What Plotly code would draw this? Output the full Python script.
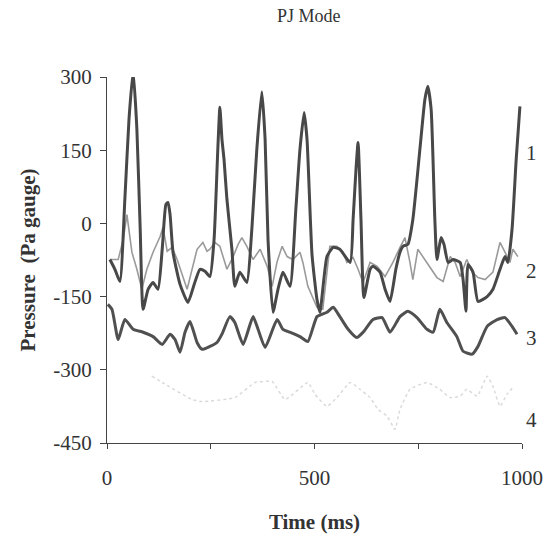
import plotly.graph_objects as go

# --- data (time in ms, pressure in Pa gauge)
t1 = [7, 19, 31, 43, 53, 63, 72, 80, 87, 99, 111, 123, 133, 142, 147, 152, 159, 176, 195, 210,
      224, 236, 248, 258, 267, 272, 277, 282, 289, 301, 308, 320, 337, 349, 361, 373, 381, 388, 400, 412,
      424, 441, 455, 465, 475, 482, 494, 506, 513, 530, 545, 561, 586, 593, 600, 605, 612, 619, 634, 641,
      658, 670, 682, 696, 706, 713, 725, 737, 754, 766, 773, 781, 790, 795, 805, 812, 822, 834, 851, 858,
      865, 870, 882, 894, 916, 930, 947, 959, 966, 976, 986, 995]
p1 = [-74, -94, -119, 49, 213, 311, 193, -12, -176, -135, -121, -135, -53, 39, 43, 18, -59, -125, -162, -125,
      -94, -98, -109, -33, 152, 238, 172, 131, 49, -53, -129, -100, -121, -12, 152, 270, 172, -33, -182, -135,
      -100, -129, 29, 152, 227, 172, -64, -156, -182, -68, -49, -53, -80, 8, 111, 166, 8, -152, -94, -88,
      -100, -135, -160, -94, -59, -47, -43, 8, 152, 254, 281, 234, 8, -74, -29, -43, -80, -74, -80, -115,
      -180, -84, -100, -160, -150, -135, -94, -68, -80, -12, 131, 240]

t2 = [7, 27, 39, 48, 60, 72, 84, 96, 111, 128, 135, 145, 157, 169, 193, 205, 217, 231, 241, 248,
      260, 272, 289, 304, 316, 325, 337, 352, 369, 386, 398, 410, 422, 434, 448, 465, 472, 484, 506, 520,
      537, 554, 569, 578, 593, 605, 617, 634, 651, 670, 689, 706, 718, 730, 737, 749, 761, 778, 795, 810,
      827, 839, 851, 867, 880, 894, 911, 930, 947, 959, 971, 978, 990]
p2 = [-74, -74, -33, 18, -59, -94, -135, -94, -59, -27, -8, -57, -49, -74, -135, -94, -53, -39, -57, -53,
      -39, -47, -94, -68, -43, -29, -47, -74, -53, -88, -129, -78, -47, -68, -74, -59, -80, -129, -172, -176,
      -47, -47, -59, -80, -70, -94, -121, -80, -88, -109, -80, -49, -29, -80, -115, -53, -68, -88, -111, -119,
      -68, -80, -109, -74, -100, -111, -115, -100, -39, -59, -80, -53, -68]

t3 = [2, 12, 27, 43, 63, 87, 111, 133, 152, 164, 176, 188, 200, 217, 229, 248, 265, 277, 296, 308,
      328, 352, 364, 381, 410, 424, 441, 465, 484, 506, 530, 545, 561, 581, 602, 617, 641, 663, 682, 706,
      725, 747, 771, 786, 802, 819, 843, 858, 880, 894, 916, 940, 959, 976, 988]
p3 = [-166, -176, -238, -197, -217, -223, -232, -248, -227, -238, -264, -223, -201, -244, -258, -252, -244, -227, -191, -203,
      -248, -191, -217, -254, -197, -217, -223, -232, -242, -191, -182, -172, -191, -217, -234, -223, -197, -193, -223, -191,
      -180, -193, -217, -223, -176, -203, -232, -262, -268, -252, -211, -197, -193, -211, -227]

t4 = [108, 133, 205, 229, 308, 357, 398, 429, 484, 501, 530, 554, 586, 610, 634, 653, 675, 694, 706, 730,
      771, 802, 827, 851, 867, 892, 916, 930, 947, 964, 978]
p4 = [-313, -326, -361, -365, -357, -326, -324, -361, -326, -350, -375, -357, -326, -340, -357, -381, -395, -422, -381, -340,
      -326, -340, -357, -354, -340, -354, -313, -334, -375, -350, -336]

yticks = [-450, -300, -150, 0, 150, 300]
ylabels = ["-450", "-300", "-150", "0", "150", "300"]

serif = "Liberation Serif, Times New Roman, serif"

fig = go.Figure()
fig.add_trace(go.Scatter(x=t4, y=p4, mode="lines",
                         line=dict(color="#dadada", width=1.5, dash="dot", shape="spline", smoothing=0.4)))
fig.add_trace(go.Scatter(x=t2, y=p2, mode="lines",
                         line=dict(color="#9a9a9a", width=1.6)))
fig.add_trace(go.Scatter(x=t3, y=p3, mode="lines",
                         line=dict(color="#505050", width=3, shape="spline", smoothing=0.5)))
fig.add_trace(go.Scatter(x=t1, y=p1, mode="lines",
                         line=dict(color="#484848", width=3, shape="spline", smoothing=0.5)))

# curve labels at the right end
for lab, yv in [("1", 145), ("2", -98), ("3", -234), ("4", -402)]:
    fig.add_annotation(x=1.005, xref="paper", y=yv, yref="y", text=lab, showarrow=False,
                       xanchor="left", font=dict(family=serif, size=21, color="#333"))

# page body keeps its default 8px margin, so the figure is sized to fit inside the window
fig.update_layout(
    width=544, height=530,
    margin=dict(l=99, r=30, t=69, b=95, autoexpand=False),
    paper_bgcolor="white", plot_bgcolor="white",
    showlegend=False,
    font=dict(family=serif, color="#333"),
    title=dict(text="PJ Mode", x=0.553, xanchor="center", xref="container",
               y=0.997, yanchor="top", yref="container",
               font=dict(family=serif, size=18, color="#333")),
)
fig.update_xaxes(range=[0, 1000], showgrid=False, zeroline=False, automargin=False,
                 showline=True, linecolor="#444", linewidth=1.2,
                 ticks="outside", ticklen=5, tickcolor="#444",
                 tickvals=[0, 250, 500, 750, 1000], ticktext=["0", "", "500", "", "1000"],
                 tickfont=dict(family=serif, size=21, color="#333"), ticklabelstandoff=11,
                 title=dict(text="<b>Time (ms)</b>", standoff=25,
                            font=dict(family=serif, size=21, color="#333")))
fig.update_yaxes(range=[-450, 300], showgrid=False, zeroline=False, automargin=False,
                 showline=True, linecolor="#444", linewidth=1.2,
                 ticks="outside", ticklen=6, tickcolor="#444",
                 tickvals=yticks, ticktext=ylabels,
                 tickfont=dict(family=serif, size=21, color="#333"), ticklabelstandoff=4,
                 title=dict(text="<b>Pressure  (Pa gauge)</b>", standoff=11,
                            font=dict(family=serif, size=21, color="#333")))

fig.write_html("out.html")
